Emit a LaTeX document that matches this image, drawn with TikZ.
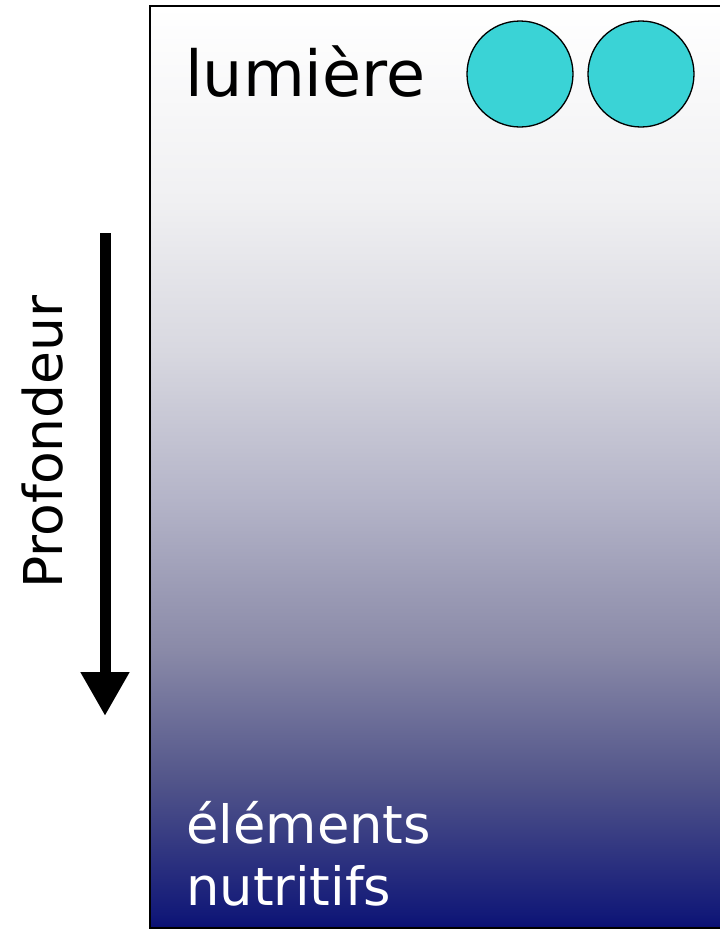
\documentclass[tikz,border=0pt]{standalone}
\usepackage{fontspec}
\setmainfont{DejaVu Sans}
\usetikzlibrary{arrows.meta}
\definecolor{sA}{RGB}{10,16,115}
\definecolor{sB}{RGB}{18,25,120}
\definecolor{sC}{RGB}{82,85,138}
\definecolor{sD}{RGB}{138,138,168}
\definecolor{sE}{RGB}{180,180,200}
\definecolor{sF}{RGB}{216,216,224}
\definecolor{sG}{RGB}{240,240,242}
\definecolor{cyanc}{RGB}{58,211,214}
\pgfdeclareverticalshading{depthshade}{100bp}{color(0bp)=(sA); color(25bp)=(sA); color(25.7bp)=(sB); color(33bp)=(sC); color(40.1bp)=(sD); color(48.2bp)=(sE); color(56.3bp)=(sF); color(64.5bp)=(sG); color(75bp)=(white); color(100bp)=(white)}
\tikzset{
  bubble/.style={circle, draw=black, line width=1.3pt, fill=cyanc, minimum size=106pt, inner sep=0pt},
  bigtext/.style={anchor=base west, inner sep=0pt, font=\fontsize{63.5}{74}\selectfont},
  lowtext/.style={anchor=base west, inner sep=0pt, text=white, font=\fontsize{52.7}{62}\selectfont, align=left},
  sidetext/.style={anchor=base, inner sep=0pt, rotate=90, font=\fontsize{53.5}{64}\selectfont},
}
\begin{document}
\begin{tikzpicture}[x=1pt, y=-1pt]
\useasboundingbox (0,0) rectangle (720,929);
\clip (0,0) rectangle (720,929);
\fill[white] (0,0) rectangle (720,929);
\shade[shading=depthshade] (150,6) rectangle (730,928);
\draw[line width=1.5pt] (150,6) rectangle (730,928);
\node[bigtext] (lum) at (185,96) {lumière};
\node[bubble] (c1) at (520,74) {};
\node[bubble] (c2) at (641,74) {};
\node[lowtext] (nut1) at (186,843) {éléments};
\node[lowtext] (nut2) at (186,905) {nutritifs};
\node[sidetext] (prof) at (62,442) {Profondeur};
\coordinate (atop) at (105,233);
\coordinate (abot) at (105,716);
\draw[line width=11pt, -{Triangle[length=44pt, width=46pt]}] (atop) -- (abot);
\end{tikzpicture}
\end{document}
